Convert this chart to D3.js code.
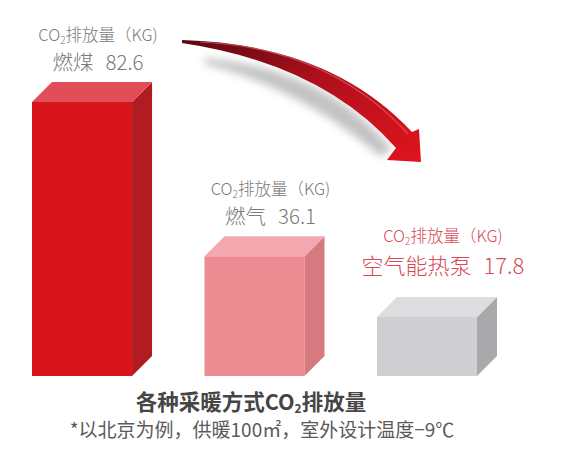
<!DOCTYPE html>
<html>
<head>
<meta charset="utf-8">
<script src="https://cdn.jsdelivr.net/npm/d3@7"></script>
<style>
  html, body { margin: 0; padding: 0; background: #fff; }
  svg { display: block; font-family: "Noto Sans CJK SC", "Noto Sans", sans-serif; }
</style>
</head>
<body>
<svg id="chart" width="564" height="465"></svg>
<script>
const categories = ['燃煤', '燃气', '空气能热泵'];
const values = [82.6, 36.1, 17.8];
const unitParts = ['CO', '2', '排放量（KG)'];
const titleParts = ['各种采暖方式CO', '2', '排放量'];
const note = '*以北京为例，供暖100㎡，室外设计温度−9℃';

const frontColors = ['#d8151b', '#ec8c92', '#cfcfd1'];
const sideColors = ['#b01c22', '#d67a80', '#a9a9ab'];
const topColors = ['#e24e58', '#f3a8af', '#dddddf'];

const bars = categories.map((c, i) => ({name: c, value: values[i], i}));

const svg = d3.select('#chart');
const baseline = 376;
const depth = 20;

const xScale = d3.scaleBand()
    .domain(categories)
    .range([32, 477])
    .paddingInner(0.42);

const yScale = d3.scaleLinear()
    .domain([0, 82.6])
    .range([baseline, 102]);

const w = xScale.bandwidth();

const defs = svg.append('defs');

const grad = defs.append('linearGradient')
    .attr('id', 'arrowGrad')
    .attr('x1', '0%').attr('y1', '0%')
    .attr('x2', '100%').attr('y2', '100%');
grad.append('stop').attr('offset', '0%').attr('stop-color', '#5a0810');
grad.append('stop').attr('offset', '45%').attr('stop-color', '#b0101c');
grad.append('stop').attr('offset', '100%').attr('stop-color', '#e0141e');

defs.append('filter')
    .attr('id', 'blur')
    .attr('x', '-20%').attr('y', '-50%')
    .attr('width', '140%').attr('height', '200%')
    .append('feGaussianBlur')
    .attr('stdDeviation', 4);

// arrow: soft shadow, then the body
svg.append('path')
    .attr('d', 'M205,58 Q330,70 392,150 L380,156 Q300,88 205,64 Z')
    .attr('fill', '#9a9a9a')
    .attr('opacity', 0.6)
    .attr('filter', 'url(#blur)');
svg.append('path')
    .attr('d', 'M182,40 Q330,44 412,132 L419,129 L421,162 L387,160 L396,148 Q322,64 182,43 Z')
    .attr('fill', 'url(#arrowGrad)');
svg.append('path')
    .attr('d', 'M200,42 Q330,48 408,134')
    .attr('fill', 'none')
    .attr('stroke', '#f06a74')
    .attr('stroke-width', 1.2)
    .attr('opacity', 0.6);

const g = svg.selectAll('g.bar')
    .data(bars)
    .enter()
    .append('g')
    .attr('class', 'bar');

// front face
g.append('rect')
    .attr('x', d => xScale(d.name))
    .attr('y', d => yScale(d.value))
    .attr('width', w)
    .attr('height', d => baseline - yScale(d.value))
    .attr('fill', d => frontColors[d.i]);

// side face
g.append('path')
    .attr('d', d => {
        const x = xScale(d.name) + w, y = yScale(d.value);
        return `M${x},${y} L${x + depth},${y - depth} L${x + depth},${baseline - depth} L${x},${baseline} Z`;
    })
    .attr('fill', d => sideColors[d.i]);

// top face
g.append('path')
    .attr('d', d => {
        const x = xScale(d.name), y = yScale(d.value);
        return `M${x},${y} L${x + depth},${y - depth} L${x + w + depth},${y - depth} L${x + w},${y} Z`;
    })
    .attr('fill', d => topColors[d.i]);

// text with a subscript "2"
const withSub = (sel, parts, subSize) => {
    sel.append('tspan').text(parts[0]);
    sel.append('tspan').attr('font-size', subSize).attr('dy', 3).text(parts[1]);
    sel.append('tspan').attr('dy', -3).text(parts[2]);
};

// labels above bars
const last = categories.length - 1;
const labelX = d => xScale(d.name) + (w + depth) / 2 + 6;
const labelColor = d => d.i === last ? '#d84a55' : '#7a7a7a';

const unitText = g.append('text')
    .attr('x', labelX)
    .attr('y', d => yScale(d.value) - depth - (d.i === last ? 55 : 41))
    .attr('text-anchor', 'middle')
    .attr('font-size', 16.5)
    .attr('font-weight', 300)
    .attr('fill', labelColor);
withSub(unitText, unitParts, 10);

const valueY = d => yScale(d.value) - depth - (d.i === last ? 23 : 12);
const valueSize = d => d.i === last ? 22 : 20.5;
const gap = 12;

const nameText = g.append('text')
    .attr('y', valueY)
    .attr('font-size', valueSize)
    .attr('font-weight', 300)
    .attr('fill', labelColor)
    .text(d => d.name);

const numText = g.append('text')
    .attr('y', valueY)
    .attr('font-size', valueSize)
    .attr('font-weight', 300)
    .attr('fill', labelColor)
    .text(d => d.value);

// center name + value as one line over each bar
nameText.each(function(d) {
    const nw = this.getComputedTextLength();
    const vw = numText.filter(e => e === d).node().getComputedTextLength();
    const x0 = labelX(d) - (nw + gap + vw) / 2;
    d3.select(this).attr('x', x0);
    numText.filter(e => e === d).attr('x', x0 + nw + gap);
});

// title and note
const titleText = svg.append('text')
    .attr('x', 251)
    .attr('y', 410)
    .attr('text-anchor', 'middle')
    .attr('font-size', 21.5)
    .attr('font-weight', 'bold')
    .attr('fill', '#454545');
withSub(titleText, titleParts, 12);

svg.append('text')
    .attr('x', 262)
    .attr('y', 437)
    .attr('text-anchor', 'middle')
    .attr('font-size', 19)
    .attr('fill', '#5a5a5a')
    .text(note);
</script>
</body>
</html>
